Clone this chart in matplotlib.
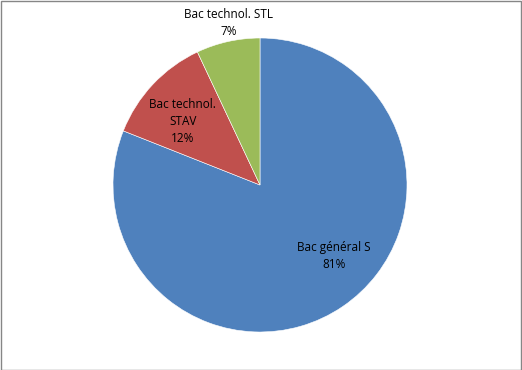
import numpy as np
import matplotlib
matplotlib.use("Agg")
import matplotlib.pyplot as plt
from matplotlib.patches import Rectangle

labels = ["Bac général S", "Bac technol.\nSTAV", "Bac technol. STL"]
values = [81, 12, 7]
colors = ["#4F81BD", "#C0504D", "#9BBB59"]
# label placement (radius factor, angle in degrees) per slice
label_pos = [(0.70, -44.0), (0.68, 140.7), (1.12, 101.0)]

fig = plt.figure(figsize=(5.22, 3.70), dpi=100)
W, H = 522, 370
cx, cy, r = 260, 185, 147
ax = fig.add_axes([(cx - r) / W, (H - cy - r) / H, 2 * r / W, 2 * r / H])

wedges, _ = ax.pie(values, colors=colors, startangle=90, counterclock=False,
                   radius=1.0, wedgeprops=dict(edgecolor="white", linewidth=0.4))
ax.set_xlim(-1, 1)
ax.set_ylim(-1, 1)
ax.set_aspect("equal")
ax.axis("off")

total = sum(values)
for lab, v, (rf, ang) in zip(labels, values, label_pos):
    a = np.deg2rad(ang)
    ax.text(rf * np.cos(a), rf * np.sin(a), f"{lab}\n{round(100 * v / total)}%",
            ha="center", va="center", fontsize=8.5, family="Open Sans",
            color="black", linespacing=1.4, clip_on=False)

fig.patches.append(Rectangle((0.5 / W, 0.5 / H), 1 - 1.5 / W, 1 - 1.5 / H,
                             transform=fig.transFigure, fill=False,
                             edgecolor="#868686", linewidth=1.0))

fig.savefig("out.png", dpi=100)
